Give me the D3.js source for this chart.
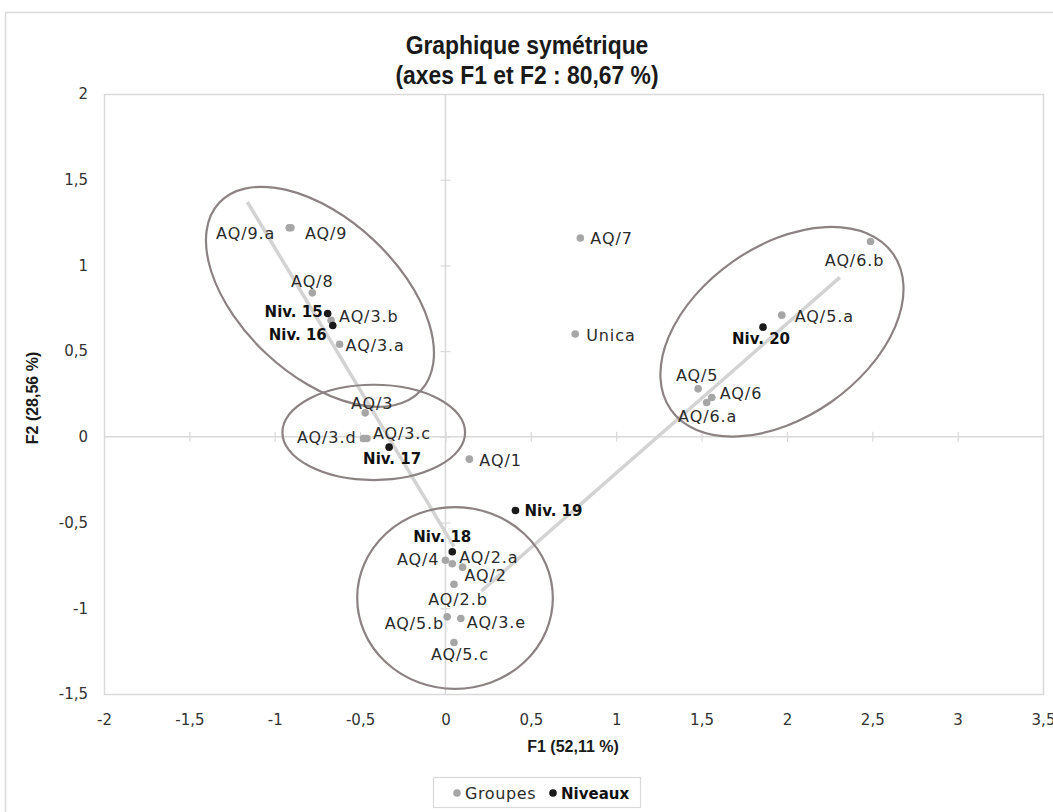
<!DOCTYPE html>
<html>
<head>
<meta charset="utf-8">
<script src="https://cdn.jsdelivr.net/npm/d3@7"></script>
<style>
  html, body { margin: 0; padding: 0; background: #ffffff; }
  svg { display: block; }
</style>
</head>
<body>
<svg id="chart" width="1053" height="812"></svg>
<script>
// ---------- DATA ----------
const titleLines = ["Graphique symétrique", "(axes F1 et F2 : 80,67 %)"];
const xAxisTitle = "F1 (52,11 %)";
const yAxisTitle = "F2 (28,56 %)";
const xTicks = [-2, -1.5, -1, -0.5, 0, 0.5, 1, 1.5, 2, 2.5, 3, 3.5];
const yTicks = [-1.5, -1, -0.5, 0, 0.5, 1, 1.5, 2];
const legendLabels = ["Groupes", "Niveaux"];

// Groupes (gray points)
const groupNames = ["AQ/9.a", "AQ/9", "AQ/8", "AQ/3.b", "AQ/3.a", "AQ/3", "AQ/3.d", "AQ/3.c",
  "AQ/1", "AQ/4", "AQ/2.a", "AQ/2", "AQ/2.b", "AQ/5.b", "AQ/3.e", "AQ/5.c",
  "AQ/7", "Unica", "AQ/6.b", "AQ/5.a", "AQ/5", "AQ/6", "AQ/6.a"];
const groupF1 = [-0.915, -0.905, -0.78, -0.67, -0.62, -0.47, -0.48, -0.46,
  0.14, 0.00, 0.04, 0.10, 0.05, 0.01, 0.09, 0.05,
  0.79, 0.76, 2.49, 1.97, 1.48, 1.56, 1.53];
const groupF2 = [1.22, 1.22, 0.84, 0.68, 0.54, 0.14, -0.01, -0.01,
  -0.13, -0.72, -0.74, -0.76, -0.86, -1.05, -1.06, -1.20,
  1.16, 0.60, 1.14, 0.71, 0.28, 0.23, 0.20];

// Niveaux (black points)
const levelNames = ["Niv. 15", "Niv. 16", "Niv. 17", "Niv. 18", "Niv. 19", "Niv. 20"];
const levelF1 = [-0.69, -0.66, -0.33, 0.04, 0.41, 1.86];
const levelF2 = [0.72, 0.65, -0.06, -0.67, -0.43, 0.64];

// Trajectory lines (F1/F2 of end points)
const trendX1 = [-1.16, 0.05];
const trendY1 = [1.37, -0.64];
const trendX2 = [0.21, 2.31];
const trendY2 = [-0.90, 0.93];

// Ellipses enclosing clusters (center F1, F2, semi-axes in F units, rotation deg)
const ellCx = [-0.735, -0.42, 0.056, 1.971];
const ellCy = [0.817, 0.026, -0.94, 0.613];
const ellA = [0.807, 0.535, 0.573, 0.795];
const ellB = [0.456, 0.278, 0.530, 0.50];
const ellRot = [43, 0, 0, -35];

// ---------- LAYOUT / STYLE ----------
const W = 1053, H = 812;
const plot = { left: 104, top: 94, right: 1043, bottom: 694 };
const FONT = "'DejaVu Sans', sans-serif";
const TITLE_FONT = "'Liberation Sans', Arial, sans-serif";
const GRAY_PT = "#a6a6a6", BLACK_PT = "#1a1a1a";
const GRID = "#d9d9d9", ELL = "#8c8282", TREND = "#d3d3d3", TXT = "#2b2b2b";

// label placement: [dx, dy (center offset), anchor]
const labelPos = {
  "AQ/9.a": [-14, 5, "end"], "AQ/9": [14, 5, "start"], "AQ/8": [0, -12, "middle"],
  "AQ/3.b": [8, -4, "start"], "AQ/3.a": [6, 1, "start"], "AQ/3": [7, -10, "middle"],
  "AQ/3.d": [-7, -2, "end"], "AQ/3.c": [6, -6, "start"], "AQ/1": [10, 1, "start"],
  "AQ/4": [-6, -1, "end"], "AQ/2.a": [7, -7, "start"], "AQ/2": [2, 8, "start"],
  "AQ/2.b": [4, 15, "middle"], "AQ/5.b": [-3, 6, "end"], "AQ/3.e": [6, 3, "start"],
  "AQ/5.c": [6, 11, "middle"], "AQ/7": [10, 0, "start"], "Unica": [11, 1, "start"],
  "AQ/6.b": [-16, 19, "middle"], "AQ/5.a": [13, 1, "start"], "AQ/5": [-1, -14, "middle"],
  "AQ/6": [8, -4, "start"], "AQ/6.a": [1, 13, "middle"],
  "Niv. 15": [-5, -2, "end"], "Niv. 16": [-6, 9, "end"], "Niv. 17": [3, 11, "middle"],
  "Niv. 18": [-10, -16, "middle"], "Niv. 19": [9, -1, "start"], "Niv. 20": [-2, 11, "middle"]
};

// ---------- DRAW ----------
const svg = d3.select("#chart");
svg.append("rect").attr("x", 0).attr("y", 0).attr("width", W).attr("height", H).attr("fill", "#ffffff");
svg.append("rect").attr("x", 5.5).attr("y", 12.5).attr("width", W + 10).attr("height", H + 10)
  .attr("fill", "none").attr("stroke", GRID).attr("stroke-width", 1.5);

const x = d3.scaleLinear().domain([-2, 3.5]).range([plot.left, plot.right]);
const y = d3.scaleLinear().domain([-1.5, 2]).range([plot.bottom, plot.top]);
const fmt = v => String(v).replace(".", ",");

// title
svg.append("g").attr("transform", "translate(527,0) scale(0.88,1)")
  .selectAll("text").data(titleLines).join("text")
  .attr("x", 0).attr("y", (d, i) => 54 + i * 30)
  .attr("text-anchor", "middle").attr("font-family", TITLE_FONT)
  .attr("font-weight", "bold").attr("font-size", 26).attr("fill", "#1a1a1a")
  .text(d => d);

// plot border
svg.append("rect").attr("x", plot.left + 0.5).attr("y", plot.top + 0.5)
  .attr("width", plot.right - plot.left).attr("height", plot.bottom - plot.top)
  .attr("fill", "none").attr("stroke", GRID).attr("stroke-width", 1.5);

// zero axes with crossing ticks
const axX = d3.axisBottom(x).tickValues(xTicks.filter(v => v > -2 && v < 3.5)).tickSize(10).tickFormat("");
const gx = svg.append("g").attr("transform", `translate(0,${y(0) - 5})`).call(axX);
gx.select(".domain").remove();
gx.selectAll("line").attr("stroke", GRID).attr("stroke-width", 1.2);
svg.append("line").attr("x1", plot.left).attr("x2", plot.right).attr("y1", y(0)).attr("y2", y(0))
  .attr("stroke", GRID).attr("stroke-width", 1.5);

const axY = d3.axisLeft(y).tickValues(yTicks.filter(v => v > -1.5 && v < 2)).tickSize(10).tickFormat("");
const gy = svg.append("g").attr("transform", `translate(${x(0) + 5},0)`).call(axY);
gy.select(".domain").remove();
gy.selectAll("line").attr("stroke", GRID).attr("stroke-width", 1.2);
svg.append("line").attr("y1", plot.top).attr("y2", plot.bottom).attr("x1", x(0)).attr("x2", x(0))
  .attr("stroke", GRID).attr("stroke-width", 1.5);

// tick labels
const xl = d3.axisBottom(x).tickValues(xTicks).tickSize(0).tickPadding(0).tickFormat(fmt);
const gxl = svg.append("g").attr("transform", `translate(0,${plot.bottom + 20})`).call(xl);
gxl.select(".domain").remove();
gxl.selectAll("text").attr("font-family", FONT).attr("font-size", 15).attr("fill", "#333");
const yl = d3.axisLeft(y).tickValues(yTicks).tickSize(0).tickPadding(0).tickFormat(fmt);
const gyl = svg.append("g").attr("transform", `translate(${plot.left - 16},0)`).call(yl);
gyl.select(".domain").remove();
gyl.selectAll("text").attr("font-family", FONT).attr("font-size", 15).attr("fill", "#333");

// axis titles
svg.append("text").attr("x", 573).attr("y", 752).attr("text-anchor", "middle")
  .attr("font-family", TITLE_FONT).attr("font-weight", "bold").attr("font-size", 16).attr("fill", "#1a1a1a")
  .text(xAxisTitle);
svg.append("text").attr("transform", `translate(38,${398}) rotate(-90)`).attr("text-anchor", "middle")
  .attr("font-family", TITLE_FONT).attr("font-weight", "bold").attr("font-size", 16).attr("fill", "#1a1a1a")
  .text(yAxisTitle);

// trend lines
const trends = [
  d3.zip(trendX1, trendY1),
  d3.zip(trendX2, trendY2)
];
svg.append("g").selectAll("path").data(trends).join("path")
  .attr("d", d3.line().x(d => x(d[0])).y(d => y(d[1])))
  .attr("fill", "none").attr("stroke", TREND).attr("stroke-width", 3.5);

// ellipses
const ells = ellCx.map((c, i) => ({ cx: c, cy: ellCy[i], a: ellA[i], b: ellB[i], r: ellRot[i] }));
svg.append("g").selectAll("ellipse").data(ells).join("ellipse")
  .attr("transform", d => `translate(${x(d.cx)},${y(d.cy)}) rotate(${d.r})`)
  .attr("rx", d => x(d.a) - x(0)).attr("ry", d => y(0) - y(d.b))
  .attr("fill", "none").attr("stroke", ELL).attr("stroke-width", 2.2);

// points
const groups = groupNames.map((n, i) => ({ name: n, f1: groupF1[i], f2: groupF2[i] }));
const levels = levelNames.map((n, i) => ({ name: n, f1: levelF1[i], f2: levelF2[i] }));

svg.append("g").selectAll("circle").data(groups).join("circle")
  .attr("cx", d => x(d.f1)).attr("cy", d => y(d.f2)).attr("r", 3.8).attr("fill", GRAY_PT);
svg.append("g").selectAll("circle").data(levels).join("circle")
  .attr("cx", d => x(d.f1)).attr("cy", d => y(d.f2)).attr("r", 3.8).attr("fill", BLACK_PT);

// labels
function drawLabels(data, bold) {
  svg.append("g").selectAll("text").data(data).join("text")
    .attr("x", d => x(d.f1) + labelPos[d.name][0])
    .attr("y", d => y(d.f2) + labelPos[d.name][1] + 6)
    .attr("text-anchor", d => labelPos[d.name][2])
    .attr("font-family", FONT).attr("font-size", bold ? 15 : 16)
    .attr("letter-spacing", bold ? 0 : 0.9)
    .attr("font-weight", bold ? "bold" : "normal")
    .attr("fill", bold ? "#111" : TXT)
    .text(d => d.name);
}
drawLabels(groups, false);
drawLabels(levels, true);

// legend
const lg = svg.append("g");
lg.append("rect").attr("x", 433.5).attr("y", 777.5).attr("width", 207).attr("height", 30)
  .attr("fill", "#fff").attr("stroke", GRID).attr("stroke-width", 1.2);
lg.append("circle").attr("cx", 457).attr("cy", 793).attr("r", 3.8).attr("fill", GRAY_PT);
lg.append("text").attr("x", 465).attr("y", 799).attr("font-family", FONT).attr("font-size", 16)
  .attr("letter-spacing", 0.6).attr("fill", TXT).text(legendLabels[0]);
lg.append("circle").attr("cx", 553).attr("cy", 793).attr("r", 3.8).attr("fill", BLACK_PT);
lg.append("text").attr("x", 561).attr("y", 799).attr("font-family", FONT).attr("font-size", 15)
  .attr("font-weight", "bold").attr("fill", "#111").text(legendLabels[1]);
</script>
</body>
</html>
